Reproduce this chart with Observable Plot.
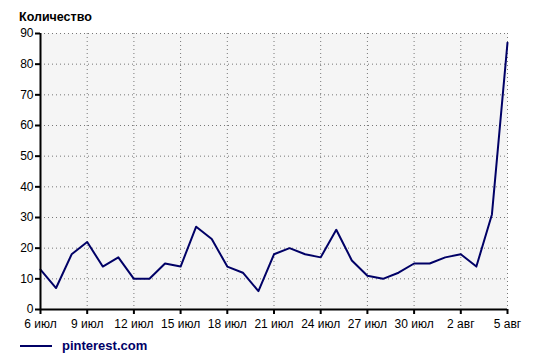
<!DOCTYPE html>
<html><head><meta charset="utf-8">
<script src="https://cdn.jsdelivr.net/npm/d3@7"></script>
<script src="https://cdn.jsdelivr.net/npm/@observablehq/plot@0.6"></script>
<style>
body{margin:0;background:#fff;font-family:"Liberation Sans",Arial,sans-serif;width:543px;height:362px;overflow:hidden}
#title{height:24px;padding-left:19px;font-weight:bold;font-size:12.5px;line-height:34px;color:#000}
#legend{position:absolute;left:20px;top:338px;display:flex;align-items:center;font-weight:bold;font-size:13px;color:#000066}
#legend span.sw{display:inline-block;width:32px;height:2px;background:#000066;margin-right:10px}
</style></head>
<body>
<div id="title">Количество</div>
<div id="chart"></div>
<div id="legend"><span class="sw"></span>pinterest.com</div>
<script>
const seriesName = "pinterest.com";
const dayIndex = [0,1,2,3,4,5,6,7,8,9,10,11,12,13,14,15,16,17,18,19,20,21,22,23,24,25,26,27,28,29,30];
const counts = [13,7,18,22,14,17,10,10,15,14,27,23,14,12,6,18,20,18,17,26,16,11,10,12,15,15,17,18,14,31,87];
const tickPositions = [0,3,6,9,12,15,18,21,24,27,30];
const tickLabels = ["6 июл","9 июл","12 июл","15 июл","18 июл","21 июл","24 июл","27 июл","30 июл","2 авг","5 авг"];
const yTicks = [0,10,20,30,40,50,60,70,80,90];

const data = dayIndex.map((d,i)=>({day:d, value:counts[i]}));

const chart = Plot.plot({
  width: 543,
  height: 310,
  marginTop: 9,
  marginBottom: 25,
  marginLeft: 40,
  marginRight: 36,
  style: {fontFamily: "'Liberation Sans', Arial, sans-serif", fontSize: "12px", color: "#000", background: "#fff"},
  x: {domain: [0,30]},
  y: {domain: [0,90]},
  marks: [
    Plot.frame({fill: "#f5f5f5", stroke: null}),
    Plot.gridX(tickPositions, {stroke: "#777", strokeOpacity: 1, strokeDasharray: "1,3"}),
    Plot.gridY(yTicks, {stroke: "#777", strokeOpacity: 1, strokeDasharray: "1,3"}),
    Plot.line(data, {x: "day", y: "value", stroke: "#000066", strokeWidth: 2}),
    Plot.ruleX([0], {stroke: "#000", strokeWidth: 2}),
    Plot.ruleY([0], {stroke: "#000", strokeWidth: 2}),
    Plot.axisY(yTicks, {tickSize: 5, strokeWidth: 2, tickPadding: 2, label: null, fill: "#000"}),
    Plot.axisX(tickPositions, {tickSize: 5, strokeWidth: 2, tickPadding: 5, label: null, fill: "#000",
      tickFormat: (d) => tickLabels[tickPositions.indexOf(d)]})
  ]
});
document.getElementById("chart").appendChild(chart);
</script>
</body></html>
